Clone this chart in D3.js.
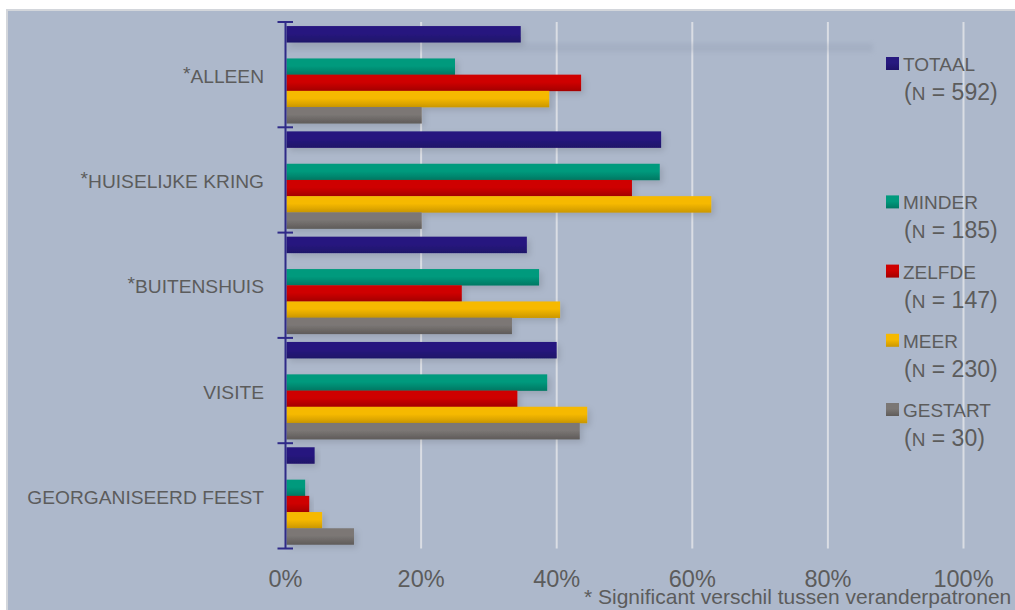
<!DOCTYPE html>
<html>
<head>
<meta charset="utf-8">
<script src="https://cdn.jsdelivr.net/npm/d3@7"></script>
<style>
  html, body { margin: 0; padding: 0; background: #ffffff; }
  svg { display: block; }
  text { font-family: "Liberation Sans", Arial, sans-serif; }
</style>
</head>
<body>
<svg id="chart" width="1015" height="610"></svg>
<script>
// ---- data ----
const categories = ["*ALLEEN", "*HUISELIJKE KRING", "*BUITENSHUIS", "VISITE", "GEORGANISEERD FEEST"];
const seriesNames = ["TOTAAL", "", "MINDER", "ZELFDE", "MEER", "GESTART"]; // "" = empty slot in each group
const seriesN = ["592", "", "185", "147", "230", "30"];
const totaal  = [0.347, 0.554, 0.356, 0.400, 0.043];
const minder  = [0.250, 0.552, 0.374, 0.386, 0.029];
const zelfde  = [0.436, 0.511, 0.260, 0.342, 0.035];
const meer    = [0.389, 0.628, 0.405, 0.445, 0.054];
const gestart = [0.201, 0.201, 0.334, 0.434, 0.101];
const xTicks = [0, 0.2, 0.4, 0.6, 0.8, 1.0];
const footnote = "* Significant verschil tussen veranderpatronen";

const seriesValues = { "TOTAAL": totaal, "MINDER": minder, "ZELFDE": zelfde, "MEER": meer, "GESTART": gestart };
const seriesColors = {
  "TOTAAL":  ["#27197f", "#1e1268"],
  "MINDER":  ["#009a7d", "#007863"],
  "ZELFDE":  ["#cf0000", "#a40000"],
  "MEER":    ["#f6b900", "#cb9700"],
  "GESTART": ["#7b7775", "#5f5b59"]
};

const svg = d3.select("#chart");

// background panel
svg.append("rect").attr("x", 6).attr("y", 9).attr("width", 1015).attr("height", 610).attr("fill", "#d3d6db");
svg.append("rect").attr("x", 8).attr("y", 11).attr("width", 1015).attr("height", 610).attr("fill", "#adb8cb");

const defs = svg.append("defs");
Object.entries(seriesColors).forEach(([k, c]) => {
  const g = defs.append("linearGradient").attr("id", "grad-" + k)
    .attr("x1", 0).attr("y1", 0).attr("x2", 0).attr("y2", 1);
  g.append("stop").attr("offset", "0%").attr("stop-color", c[0]);
  g.append("stop").attr("offset", "45%").attr("stop-color", c[0]);
  g.append("stop").attr("offset", "100%").attr("stop-color", c[1]);
});
const f = defs.append("filter").attr("id", "shadow").attr("x", "-10%").attr("y", "-50%").attr("width", "130%").attr("height", "220%");
f.append("feDropShadow").attr("dx", 3).attr("dy", 3).attr("stdDeviation", 3)
  .attr("flood-color", "#000").attr("flood-opacity", 0.12);
const fb = defs.append("filter").attr("id", "blur").attr("x", "-5%").attr("y", "-100%").attr("width", "110%").attr("height", "300%");
fb.append("feGaussianBlur").attr("stdDeviation", 2);

// scales
const x = d3.scaleLinear().domain([0, 1]).range([285.5, 963.5]);
const y = d3.scaleBand().domain(categories).range([22, 548.5]).paddingInner(0).paddingOuter(0);
const slotKey = (s, i) => s || "_blank" + i;
const ySlot = d3.scaleBand().domain(seriesNames.map(slotKey))
  .range([0, y.bandwidth()]).paddingInner(0).paddingOuter(0.25);

// gridlines
svg.append("g").selectAll("line").data(xTicks.filter(t => t > 0)).join("line")
  .attr("x1", d => x(d)).attr("x2", d => x(d))
  .attr("y1", 22).attr("y2", 548.5)
  .attr("stroke", "#dadde4").attr("stroke-width", 2);

// faint shadow band from the empty slot of the first group
svg.append("rect")
  .attr("x", x(0)).attr("y", y(categories[0]) + ySlot(slotKey("", 1)) + 1)
  .attr("width", 873 - x(0)).attr("height", 9)
  .attr("fill", "#8d99ad").attr("opacity", 0.25).attr("filter", "url(#blur)");

// bars
const barData = [];
categories.forEach((c, ci) => {
  seriesNames.forEach((s, si) => {
    if (!s) return;
    barData.push({ cat: c, series: s, key: slotKey(s, si), value: seriesValues[s][ci] });
  });
});
svg.append("g").selectAll("rect").data(barData).join("rect")
  .attr("x", x(0) + 1)
  .attr("y", d => y(d.cat) + ySlot(d.key))
  .attr("width", d => x(d.value) - x(0) - 1)
  .attr("height", ySlot.bandwidth() + 0.3)
  .attr("fill", d => "url(#grad-" + d.series + ")")
  .attr("filter", "url(#shadow)");

// category axis (left)
const axisColor = "#2f2a88";
const yAxisG = svg.append("g");
yAxisG.append("line").attr("x1", x(0)).attr("x2", x(0)).attr("y1", 22).attr("y2", 548.5)
  .attr("stroke", axisColor).attr("stroke-width", 2);
const bounds = categories.map(c => y(c)).concat([y(categories[categories.length - 1]) + y.bandwidth()]);
yAxisG.selectAll("line.tick").data(bounds).join("line").attr("class", "tick")
  .attr("x1", x(0) - 8).attr("x2", x(0) + 7.5)
  .attr("y1", d => d).attr("y2", d => d)
  .attr("stroke", axisColor).attr("stroke-width", 2);

// category labels
const labels = svg.append("g").selectAll("text").data(categories).join("text")
  .attr("x", 264).attr("y", d => y(d) + y.bandwidth() / 2 + 8)
  .attr("text-anchor", "end").attr("font-size", 19.2).attr("fill", "#5c5c5c");
labels.each(function(d) {
  const t = d3.select(this);
  if (d.startsWith("*")) {
    t.append("tspan").attr("dy", -3).text("*");
    t.append("tspan").attr("dy", 3).text(d.slice(1));
  } else {
    t.text(d);
  }
});

// x tick labels
svg.append("g").selectAll("text").data(xTicks).join("text")
  .attr("x", d => x(d)).attr("y", 587)
  .attr("text-anchor", "middle").attr("font-size", 23.5).attr("fill", "#5c5c5c")
  .text(d3.format(".0%"));

// legend
const legendItems = seriesNames.map((s, i) => ({ s, n: seriesN[i], i })).filter(d => d.s);
const lg = svg.append("g").selectAll("g").data(legendItems).join("g")
  .attr("transform", d => `translate(886, ${57 + d.i * 69.2})`);
lg.append("rect").attr("x", 0).attr("y", 0).attr("width", 13).attr("height", 13)
  .attr("fill", d => "url(#grad-" + d.s + ")");
lg.append("text").attr("x", 17).attr("y", 14).attr("font-size", 19).attr("fill", "#5c5c5c")
  .text(d => d.s);
const nt = lg.append("text").attr("x", 18).attr("y", 43).attr("font-size", 23).attr("fill", "#5c5c5c");
nt.append("tspan").text("(");
nt.append("tspan").attr("font-size", 19).text("N");
nt.append("tspan").text(d => " = " + d.n + ")");

// footnote
svg.append("text").attr("x", 584).attr("y", 604).attr("font-size", 21).attr("fill", "#5c5c5c")
  .text(footnote);
</script>
</body>
</html>
